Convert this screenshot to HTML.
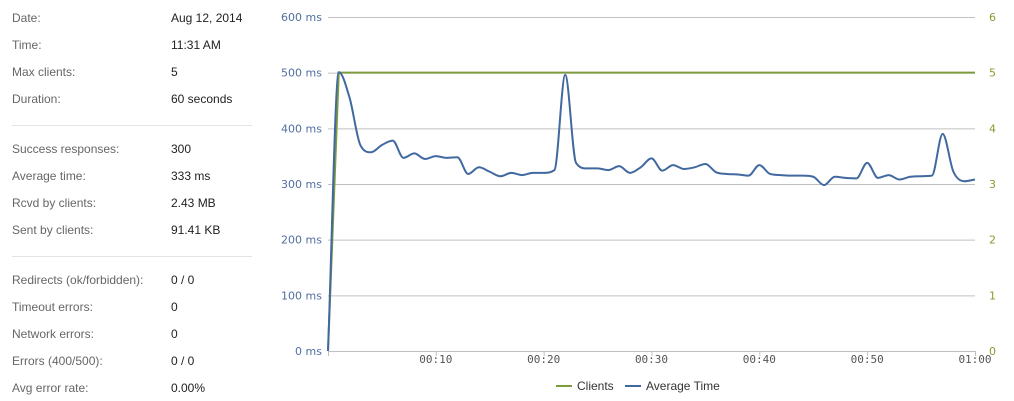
<!DOCTYPE html>
<html><head><meta charset="utf-8"><style>
body{margin:0;width:1014px;height:401px;background:#fff;font-family:"Liberation Sans",sans-serif;overflow:hidden;position:relative}
.row{position:absolute;left:12px;font-size:12px;color:#666;white-space:nowrap}
.row span{position:absolute;left:159px;color:#222}
.sep{position:absolute;left:12px;width:240px;height:1px;background:#e4e4e4}
</style></head><body>
<div>
<div class="row" style="top:11px">Date:<span>Aug 12, 2014</span></div>
<div class="row" style="top:38px">Time:<span>11:31 AM</span></div>
<div class="row" style="top:65px">Max clients:<span>5</span></div>
<div class="row" style="top:92px">Duration:<span>60 seconds</span></div>
<div class="sep" style="top:125px"></div>
<div class="row" style="top:142px">Success responses:<span>300</span></div>
<div class="row" style="top:169px">Average time:<span>333 ms</span></div>
<div class="row" style="top:196px">Rcvd by clients:<span>2.43 MB</span></div>
<div class="row" style="top:223px">Sent by clients:<span>91.41 KB</span></div>
<div class="sep" style="top:256px"></div>
<div class="row" style="top:273px">Redirects (ok/forbidden):<span>0 / 0</span></div>
<div class="row" style="top:300px">Timeout errors:<span>0</span></div>
<div class="row" style="top:327px">Network errors:<span>0</span></div>
<div class="row" style="top:354px">Errors (400/500):<span>0 / 0</span></div>
<div class="row" style="top:381px">Avg error rate:<span>0.00%</span></div>
</div>
<svg id="chart" width="1014" height="401" style="position:absolute;left:0;top:0"></svg>
<script>
const avgTime=[0,501,455,370,357,370,378,347,355,345,350,347,348,318,330,322,314,320,316,320,320,325,496,338,328,328,325,332,320,330,346,324,334,327,330,336,321,318,317,315,334,318,316,315,315,313,298,313,311,310,338,311,316,308,313,314,315,390,322,305,308];
const clients=[0,5,5,5,5,5,5,5,5,5,5,5,5,5,5,5,5,5,5,5,5,5,5,5,5,5,5,5,5,5,5,5,5,5,5,5,5,5,5,5,5,5,5,5,5,5,5,5,5,5,5,5,5,5,5,5,5,5,5,5,5];
const leftTicks=[0,100,200,300,400,500,600];
const rightTicks=[0,1,2,3,4,5,6];
const xTicks=[10,20,30,40,50,60];
const NS="http://www.w3.org/2000/svg";
const svg=document.getElementById('chart');
const X0=328,X1=975,Y0=351,Y1=17;
const x=t=>X0+(X1-X0)*t/60;
const yL=v=>Y0-(Y0-Y1)*v/600;
const yR=v=>Y0-(Y0-Y1)*v/6;
function el(tag,a,txt){const e=document.createElementNS(NS,tag);for(const k in a)e.setAttribute(k,a[k]);if(txt!==undefined)e.textContent=txt;svg.appendChild(e);return e;}
leftTicks.forEach((v,i)=>{
 const g=el('line',{x1:X0,x2:X1,y1:yL(v)+.5,y2:yL(v)+.5,stroke:'#c0c0c0','stroke-width':1});
 
 
 const t=el('text',{x:322,y:yL(v)+4,'text-anchor':'end','font-size':11,fill:'#4f6fa0','font-family':'DejaVu Sans, sans-serif'},v+' ms');
 
 
});
rightTicks.forEach(v=>{
 const t=el('text',{x:989,y:yR(v)+4,'font-size':11,fill:'#8a9a30','font-family':'DejaVu Sans, sans-serif'},String(v));
 
 
});
el('line',{x1:X0+.5,x2:X0+.5,y1:Y0,y2:Y0+5,stroke:'#c0c0c0'});
xTicks.forEach(v=>{
 el('line',{x1:x(v)+.5,x2:x(v)+.5,y1:Y0,y2:Y0+5,stroke:'#c0c0c0'});
 const lab=v===60?'01:00':'00:'+String(v).padStart(2,'0');
 const t=el('text',{x:x(v),y:363,'text-anchor':'middle','font-size':11,fill:'#555','font-family':'DejaVu Sans Mono, monospace'},lab);
 
 
});
function monotone(pts){
 const n=pts.length,d=[],m=[];
 for(let i=0;i<n-1;i++)d.push((pts[i+1][1]-pts[i][1])/(pts[i+1][0]-pts[i][0]));
 m[0]=d[0];m[n-1]=d[n-2];
 for(let i=1;i<n-1;i++){m[i]=(d[i-1]*d[i]<=0)?0:(d[i-1]+d[i])/2;}
 for(let i=0;i<n-1;i++){if(d[i]===0){m[i]=0;m[i+1]=0;continue;}const a=m[i]/d[i],b=m[i+1]/d[i],s=a*a+b*b;if(s>9){const t=3/Math.sqrt(s);m[i]=t*a*d[i];m[i+1]=t*b*d[i];}}
 let s='M'+pts[0][0]+','+pts[0][1];
 for(let i=0;i<n-1;i++){const h=(pts[i+1][0]-pts[i][0])/3;
  s+=' C'+(pts[i][0]+h)+','+(pts[i][1]+m[i]*h)+' '+(pts[i+1][0]-h)+','+(pts[i+1][1]-m[i+1]*h)+' '+pts[i+1][0]+','+pts[i+1][1];}
 return s;}
const cl=el('path',{d:'M'+clients.map((v,i)=>x(i)+','+yR(v)).join(' L'),fill:'none',stroke:'#7d9c3f','stroke-width':2});


const al=el('path',{d:monotone(avgTime.map((v,i)=>[x(i),yL(v)])),fill:'none',stroke:'#4169a0','stroke-width':2});


const l1=el('line',{x1:556,x2:572,y1:386,y2:386,stroke:'#7d9c3f','stroke-width':2});


const t1=el('text',{x:577,y:390,'font-size':12,fill:'#333','font-family':'Liberation Sans, sans-serif'},'Clients');


const l2=el('line',{x1:625,x2:641,y1:386,y2:386,stroke:'#4169a0','stroke-width':2});


const t2=el('text',{x:646,y:390,'font-size':12,fill:'#333','font-family':'Liberation Sans, sans-serif'},'Average Time');


</script>
</body></html>
